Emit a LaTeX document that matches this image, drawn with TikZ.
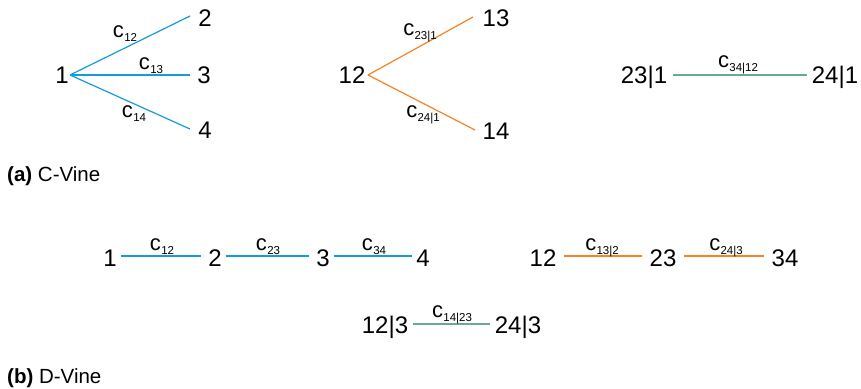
\documentclass[tikz,border=0pt]{standalone}
\usepackage{fontspec}
\setmainfont{Liberation Sans}
\definecolor{vblue}{RGB}{20,155,220}
\definecolor{vorange}{RGB}{245,130,35}
\definecolor{vgreen}{RGB}{105,170,150}
\newcommand\cl[1]{c\kern0.3pt\raisebox{-0.38ex}{\fontsize{11.5}{11.5}\selectfont #1}}
\begin{document}
\begin{tikzpicture}[x=1pt,y=-1pt,
  vtx/.style={font=\fontsize{24}{24}\selectfont, inner sep=0pt, text height=17pt, text depth=0pt, outer sep=0pt, anchor=center},
  lab/.style={font=\fontsize{22}{22}\selectfont, inner sep=0pt, anchor=base},
  capt/.style={font=\fontsize{20.5}{20.5}\selectfont, inner sep=0pt, anchor=base west},
  eb/.style={draw=vblue, line width=1.2pt},
  eo/.style={draw=vorange, line width=1.2pt},
  eg/.style={draw=vgreen, line width=1.2pt}]
\useasboundingbox (0,0) rectangle (861,388);
% (a) C-Vine tree 1
\node[vtx] (a1) at (62,75) {1};
\node[vtx] (a2) at (205,18) {2};
\node[vtx] (a3) at (204,75) {3};
\node[vtx] (a4) at (205,130) {4};
\coordinate (a1o) at (70,75);
\coordinate (a2i) at (190,16);
\coordinate (a3i) at (190,75);
\coordinate (a4i) at (190,129);
\draw[eb] (a1o) -- (a2i);
\draw[eb] (a1o) -- (a3i);
\draw[eb] (a1o) -- (a4i);
\node[lab] (l12) at (125,37) {\cl{12}};
\node[lab] (l13) at (151,69) {\cl{13}};
\node[lab] (l14) at (134,117) {\cl{14}};
% tree 2
\node[vtx] (b12) at (352,75) {12};
\node[vtx] (b13) at (496,18) {13};
\node[vtx] (b14) at (496,131) {14};
\coordinate (b12o) at (368,75);
\coordinate (b13i) at (473,17);
\coordinate (b14i) at (475,130);
\draw[eo] (b12o) -- (b13i);
\draw[eo] (b12o) -- (b14i);
\node[lab] (l231) at (420,35) {\cl{23|1}};
\node[lab] (l241) at (423,117) {\cl{24|1}};
% tree 3
\node[vtx] (c231) at (644,75) {23|1};
\node[vtx] (c241) at (835,75) {24|1};
\draw[eg] ([shift={(6,0)}]c231.east) -- ([shift={(-5,0)}]c241.west);
\node[lab] (l3412) at (738,67) {\cl{34|12}};
\node[capt] (capa) at (7,181) {\textbf{(a)} C-Vine};
% (b) D-Vine tree 1
\node[vtx] (d1) at (110,258) {1};
\node[vtx] (d2) at (215,258) {2};
\node[vtx] (d3) at (323,258) {3};
\node[vtx] (d4) at (423,258) {4};
\draw[eb] ([shift={(4,-2)}]d1.east) -- ([shift={(-7,-2)}]d2.west);
\draw[eb] ([shift={(4,-2)}]d2.east) -- ([shift={(-7,-2)}]d3.west);
\draw[eb] ([shift={(4,-2)}]d3.east) -- ([shift={(-4,-2)}]d4.west);
\node[lab] (m12) at (162,250) {\cl{12}};
\node[lab] (m23) at (268,250) {\cl{23}};
\node[lab] (m34) at (374,250) {\cl{34}};
% tree 2
\node[vtx] (e12) at (543,258) {12};
\node[vtx] (e23) at (663,258) {23};
\node[vtx] (e34) at (785,258) {34};
\draw[eo] ([shift={(8,-2)}]e12.east) -- ([shift={(-8,-2)}]e23.west);
\draw[eo] ([shift={(8,-2)}]e23.east) -- ([shift={(-8,-2)}]e34.west);
\node[lab] (m132) at (602,250) {\cl{13|2}};
\node[lab] (m243) at (726,250) {\cl{24|3}};
% tree 3
\node[vtx] (f123) at (385,325) {12|3};
\node[vtx] (f243) at (518,325) {24|3};
\draw[eg] ([shift={(5,-1)}]f123.east) -- ([shift={(-5,-1)}]f243.west);
\node[lab] (m1423) at (452,317) {\cl{14|23}};
\node[capt] (capb) at (7,383) {\textbf{(b)} D-Vine};
\end{tikzpicture}
\end{document}
